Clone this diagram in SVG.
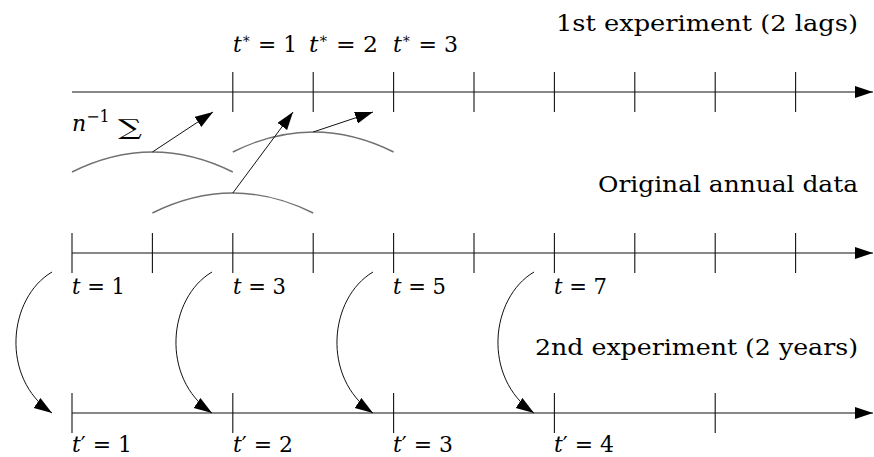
<svg xmlns="http://www.w3.org/2000/svg" width="874" height="457" viewBox="0 0 874 457">
<defs>
<marker id="ah" markerUnits="userSpaceOnUse" markerWidth="19" markerHeight="13" refX="18" refY="6" orient="auto" viewBox="0 0 19 13">
<path d="M0,0 L18,6 L0,12 z" fill="#000"/>
</marker>
<style>
.ax{stroke:#111;stroke-width:1.1;fill:none}
.tk{stroke:#111;stroke-width:1.1}
.arc{stroke:#707070;stroke-width:1.4;fill:none}
.ar{stroke:#111;stroke-width:1;fill:none}
text{font-family:'DejaVu Serif',serif;font-size:22px;fill:#000}
.it{font-style:italic}
</style>
</defs>
<rect width="874" height="457" fill="#fff"/>

<g id="axis-top">
<line class="ax" x1="72" y1="92" x2="873" y2="92" marker-end="url(#ah)"/>
<g class="tk">
<line x1="232.8" y1="72" x2="232.8" y2="112"/>
<line x1="313.2" y1="72" x2="313.2" y2="112"/>
<line x1="393.6" y1="72" x2="393.6" y2="112"/>
<line x1="474" y1="72" x2="474" y2="112"/>
<line x1="554.4" y1="72" x2="554.4" y2="112"/>
<line x1="634.8" y1="72" x2="634.8" y2="112"/>
<line x1="715.2" y1="72" x2="715.2" y2="112"/>
<line x1="795.6" y1="72" x2="795.6" y2="112"/>
</g>
<text x="858" y="31" text-anchor="end" font-size="24" textLength="302" lengthAdjust="spacingAndGlyphs">1st experiment (2 lags)</text>
<text x="233" y="52" textLength="64" lengthAdjust="spacingAndGlyphs"><tspan class="it">t</tspan><tspan font-size="14" dy="-9">∗</tspan><tspan dy="9"> = 1</tspan></text>
<text x="309" y="52" textLength="69" lengthAdjust="spacingAndGlyphs"><tspan class="it">t</tspan><tspan font-size="14" dy="-9">∗</tspan><tspan dy="9"> = 2</tspan></text>
<text x="393" y="52" textLength="65" lengthAdjust="spacingAndGlyphs"><tspan class="it">t</tspan><tspan font-size="14" dy="-9">∗</tspan><tspan dy="9"> = 3</tspan></text>
</g>

<g id="averaging">
<text x="72" y="131"><tspan class="it">n</tspan><tspan font-size="16" dy="-9">−1</tspan></text>
<text x="118" y="135" font-size="28" textLength="24" lengthAdjust="spacingAndGlyphs">∑</text>
<path class="arc" d="M72,172 Q152.4,132 232.8,172"/>
<path class="arc" d="M152.4,213 Q232.8,173 313.2,213"/>
<path class="arc" d="M232.8,152 Q313.2,112 393.6,152"/>
</g>

<g id="axis-middle">
<line class="ax" x1="72" y1="253" x2="873" y2="253" marker-end="url(#ah)"/>
<g class="tk">
<line x1="72" y1="233" x2="72" y2="273"/>
<line x1="152.4" y1="233" x2="152.4" y2="273"/>
<line x1="232.8" y1="233" x2="232.8" y2="273"/>
<line x1="313.2" y1="233" x2="313.2" y2="273"/>
<line x1="393.6" y1="233" x2="393.6" y2="273"/>
<line x1="474" y1="233" x2="474" y2="273"/>
<line x1="554.4" y1="233" x2="554.4" y2="273"/>
<line x1="634.8" y1="233" x2="634.8" y2="273"/>
<line x1="715.2" y1="233" x2="715.2" y2="273"/>
<line x1="795.6" y1="233" x2="795.6" y2="273"/>
</g>
<text x="858" y="192" text-anchor="end" font-size="24" textLength="260" lengthAdjust="spacingAndGlyphs">Original annual data</text>
<text x="72" y="294" textLength="53" lengthAdjust="spacingAndGlyphs"><tspan class="it">t</tspan> = 1</text>
<text x="233" y="294" textLength="53" lengthAdjust="spacingAndGlyphs"><tspan class="it">t</tspan> = 3</text>
<text x="393" y="294" textLength="53" lengthAdjust="spacingAndGlyphs"><tspan class="it">t</tspan> = 5</text>
<text x="554" y="294" textLength="53" lengthAdjust="spacingAndGlyphs"><tspan class="it">t</tspan> = 7</text>
</g>

<g id="axis-bottom">
<line class="ax" x1="72" y1="413" x2="873" y2="413" marker-end="url(#ah)"/>
<g class="tk">
<line x1="72" y1="393" x2="72" y2="433"/>
<line x1="232.8" y1="393" x2="232.8" y2="433"/>
<line x1="393.6" y1="393" x2="393.6" y2="433"/>
<line x1="554.4" y1="393" x2="554.4" y2="433"/>
<line x1="715.2" y1="393" x2="715.2" y2="433"/>
</g>
<text x="858" y="355" text-anchor="end" font-size="24" textLength="323" lengthAdjust="spacingAndGlyphs">2nd experiment (2 years)</text>
<text x="72" y="452" textLength="60" lengthAdjust="spacingAndGlyphs"><tspan class="it">t</tspan>′ = 1</text>
<text x="233" y="452" textLength="60" lengthAdjust="spacingAndGlyphs"><tspan class="it">t</tspan>′ = 2</text>
<text x="393" y="452" textLength="60" lengthAdjust="spacingAndGlyphs"><tspan class="it">t</tspan>′ = 3</text>
<text x="554" y="452" textLength="60" lengthAdjust="spacingAndGlyphs"><tspan class="it">t</tspan>′ = 4</text>
</g>

<g id="connectors" class="ar">
<line x1="152.4" y1="152" x2="213" y2="112" marker-end="url(#ah)"/>
<line x1="232.8" y1="193" x2="293" y2="112" marker-end="url(#ah)"/>
<line x1="313.2" y1="132" x2="373" y2="112" marker-end="url(#ah)"/>
<path d="M52,272 C8,298 0,378 52,413" marker-end="url(#ah)"/>
<path d="M212,272 C168,298 160,378 212,413" marker-end="url(#ah)"/>
<path d="M373,272 C329,298 321,378 373,413" marker-end="url(#ah)"/>
<path d="M534,272 C490,298 482,378 534,413" marker-end="url(#ah)"/>
</g>
</svg>
